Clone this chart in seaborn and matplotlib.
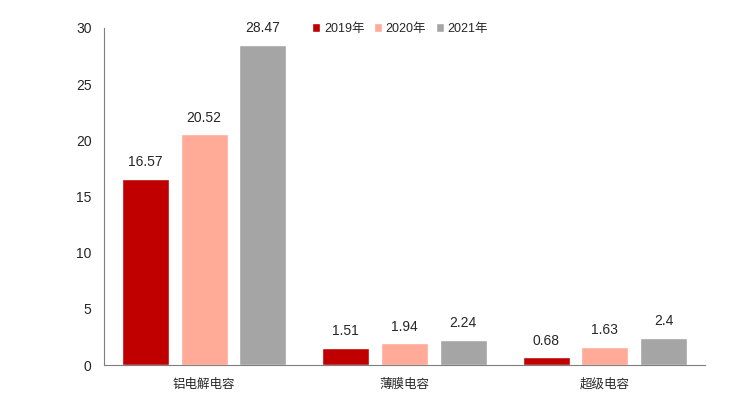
import numpy as np
import pandas as pd
import matplotlib
matplotlib.use("Agg")
import matplotlib.pyplot as plt
import seaborn as sns
from matplotlib.ticker import FixedLocator

# data
categories = ["铝电解电容", "薄膜电容", "超级电容"]
years = ["2019年", "2020年", "2021年"]
v2019 = [16.57, 1.51, 0.68]
v2020 = [20.52, 1.94, 1.63]
v2021 = [28.47, 2.24, 2.4]

df = pd.DataFrame({
    "category": categories * 3,
    "year": [years[0]] * 3 + [years[1]] * 3 + [years[2]] * 3,
    "value": v2019 + v2020 + v2021,
})

sns.set_style("white")
plt.rcParams['font.family'] = ['Liberation Sans', 'Noto Sans CJK SC', 'DejaVu Sans']

colors = ["#C00000", "#FFAB97", "#A5A5A5"]

fig = plt.figure(figsize=(7.55, 3.93), dpi=100)
ax = fig.add_axes([0.1377, 0.0712, 0.7961, 0.8576])

sns.barplot(data=df, x="category", y="value", hue="year", order=categories,
            hue_order=years, palette=colors, width=0.88, gap=0.2,
            saturation=1, ax=ax)

# value labels above each bar
for cont in ax.containers:
    ax.bar_label(cont, labels=[f"{v:g}" for v in cont.datavalues],
                 padding=7, fontsize=10)

ax.set_ylim(0, 30)
ax.set_yticks(np.arange(0, 31, 5))
ax.set_xlim(-0.5, 2.5)
ax.set_xlabel("")
ax.set_ylabel("")

# category labels centred, tick marks on the boundaries
ax.tick_params(axis="x", which="major", length=0, pad=9, labelsize=9)
for lab in ax.get_xticklabels():
    lab.set_family(['Noto Sans CJK SC', 'DejaVu Sans'])
ax.xaxis.set_minor_locator(FixedLocator([-0.5, 0.5, 1.5, 2.5]))
ax.tick_params(axis="x", which="minor", length=5, color="#7f7f7f", width=0.8)
ax.tick_params(axis="y", length=5, color="#7f7f7f", width=0.8, labelsize=10, pad=4)

for s in ["top", "right"]:
    ax.spines[s].set_visible(False)
for s in ["left", "bottom"]:
    ax.spines[s].set_color("#7f7f7f")
    ax.spines[s].set_linewidth(0.8)

leg = ax.legend(loc="center left", bbox_to_anchor=(0.338, 0.997), ncol=3,
                frameon=False, fontsize=9, handlelength=0.65, handleheight=0.65,
                handletextpad=0.3, columnspacing=0.75, borderaxespad=0)
for t in leg.get_texts():
    t.set_family(['Liberation Sans', 'Noto Sans CJK SC'])

fig.savefig("out.png", dpi=100)
